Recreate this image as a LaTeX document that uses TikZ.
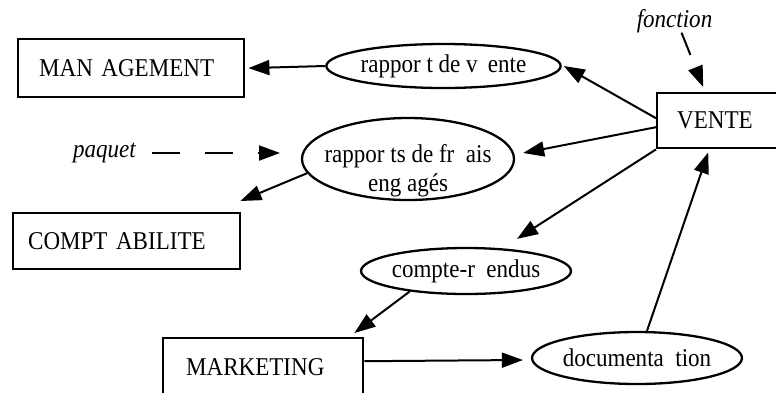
\documentclass[tikz,border=0pt]{standalone}
\usepackage{fontspec}
\setmainfont{Liberation Serif}[FakeStretch=0.9]
\usetikzlibrary{shapes.geometric,arrows.meta}
\begin{document}
\begin{tikzpicture}[x=1pt,y=-1pt,
  every node/.style={font=\fontsize{25.6pt}{29pt}\selectfont},
  box/.style={draw,line width=2.4pt,rectangle,anchor=north west,inner ysep=0pt,align=left},
  ell/.style={draw,ellipse,line width=2.3pt,inner sep=0pt},
  txt/.style={inner sep=0pt},
  arr/.style={line width=2pt,-{Triangle[length=21pt,width=15pt]}},
  darr/.style={arr,dash pattern=on 28pt off 25pt},
  farr/.style={arr,dash pattern=on 24pt off 30pt}]
\useasboundingbox (0,0) rectangle (776,392);
% boxes
\node[box,minimum width=226pt,minimum height=58pt,inner xsep=21pt,text width=184pt] (mgmt) at (17,38) {MAN AGEMENT};
\node[box,minimum width=134pt,minimum height=55pt,inner xsep=20pt,text width=94pt] (vente) at (656,92) {VENTE};
\node[box,minimum width=227pt,minimum height=56pt,inner xsep=15pt,text width=197pt] (compta) at (12,212) {COMPT ABILITE};
\node[box,minimum width=200pt,minimum height=58pt,inner xsep=23pt,text width=154pt] (mkt) at (162,337) {MARKETING};
% ellipses
\node[ell,minimum width=213pt,minimum height=44pt] (rv) at (443.5,66) {rappor t de v\hspace*{0.4em}ente};
\node[ell,minimum width=212pt,minimum height=82pt] (frais) at (408,159) {};
\node[txt,align=center] (fraistext) at (408,171) {rappor ts de fr\ \ ais\\eng agés};
\node[ell,minimum width=198pt,minimum height=46pt] (cr) at (466,271) {compte-r\ \ endus};
\node[ell,minimum width=208pt,minimum height=52pt] (doc) at (637,358) {documenta\ \ tion};
% free labels
\node[txt,anchor=base] (fonction) at (674.5,27) {\itshape fonction};
\node[txt,anchor=east] (paquet) at (136,153) {\itshape paquet};
\coordinate (ptip) at (280,153);
% connectors
\draw[arr,shorten >=3pt] (rv.west) -- (mgmt.east);
\draw[arr] ([yshift=2.5pt]vente.west) -- ([xshift=2pt]rv.east);
\draw[arr] ([yshift=-6.5pt]vente.west) -- ([xshift=8pt,yshift=6pt]frais.east);
\draw[arr] (vente.south west) -- ([xshift=51pt,yshift=8pt]cr.north);
\draw[arr] ([xshift=10pt]doc.north) -- ([xshift=-16pt,yshift=-3pt]vente.south);
\draw[arr] (frais.188) -- ([xshift=-1pt,yshift=11pt]compta.north east);
\draw[arr] (cr.200) -- ([xshift=-10pt,yshift=4pt]mkt.north east);
\draw[arr] ([yshift=6pt]mkt.east) -- ([xshift=-8pt,yshift=-2pt]doc.west);
\draw[darr] ([xshift=16pt]paquet.east) -- (ptip);
\draw[farr] ([xshift=7pt]fonction.south) -- ([xshift=-21pt,yshift=5pt]vente.north);
\end{tikzpicture}
\end{document}
